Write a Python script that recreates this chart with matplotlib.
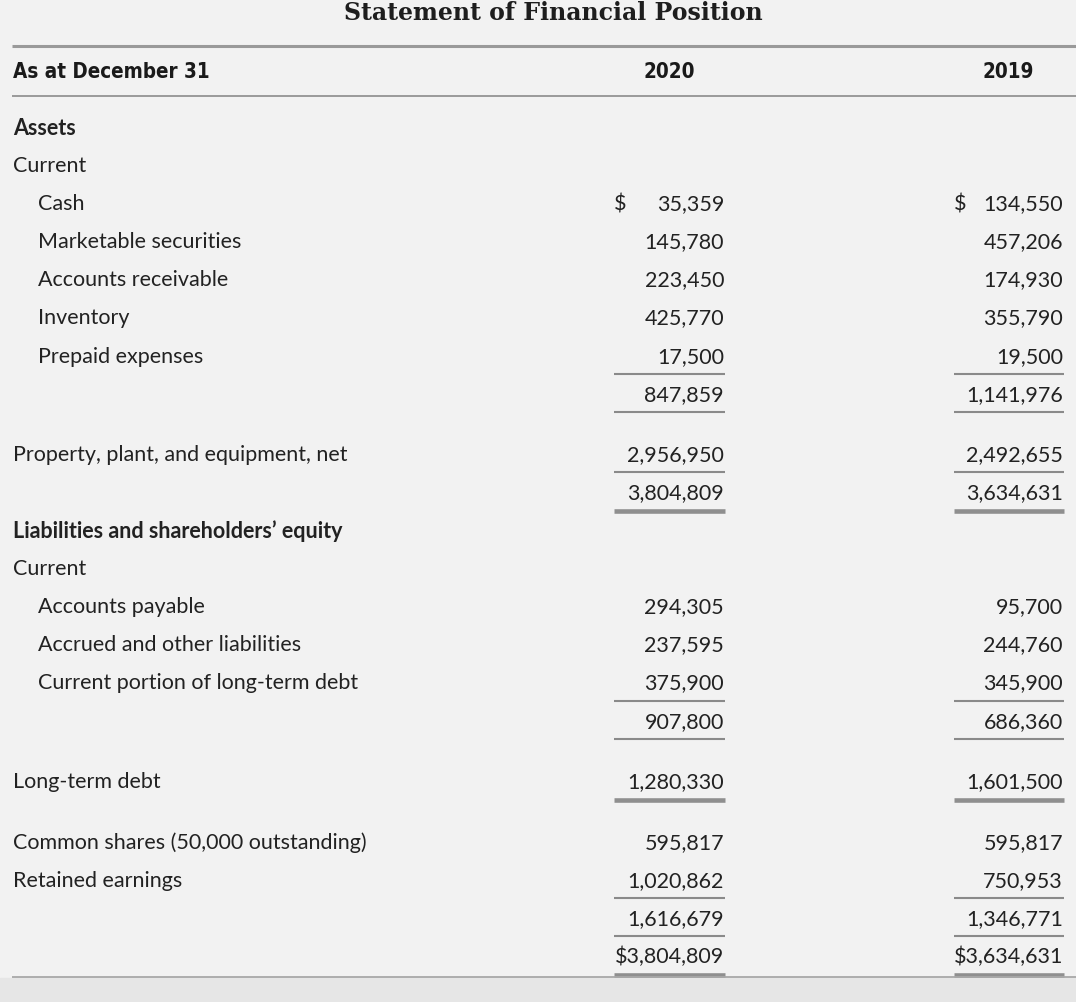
import matplotlib
matplotlib.use("Agg")
import matplotlib.pyplot as plt
from matplotlib.patches import Rectangle

# ---------------- data ----------------
title = "Statement of Financial Position"
header_label = "As at December 31"
years = ["2020", "2019"]

labels = ["Assets", "Current", "Cash", "Marketable securities", "Accounts receivable",
          "Inventory", "Prepaid expenses", "", "Property, plant, and equipment, net", "",
          "Liabilities and shareholders\u2019 equity", "Current", "Accounts payable",
          "Accrued and other liabilities", "Current portion of long-term debt", "",
          "Long-term debt", "Common shares (50,000 outstanding)", "Retained earnings", "", ""]
values_2020 = [None, None, 35359, 145780, 223450, 425770, 17500, 847859, 2956950, 3804809,
               None, None, 294305, 237595, 375900, 907800, 1280330, 595817, 1020862, 1616679, 3804809]
values_2019 = [None, None, 134550, 457206, 174930, 355790, 19500, 1141976, 2492655, 3634631,
               None, None, 95700, 244760, 345900, 686360, 1601500, 595817, 750953, 1346771, 3634631]
indent = [0, 0, 1, 1, 1, 1, 1, 0, 0, 0, 0, 0, 1, 1, 1, 0, 0, 0, 0, 0, 0]
bold = [1, 0, 0, 0, 0, 0, 0, 0, 0, 0, 1, 0, 0, 0, 0, 0, 0, 0, 0, 0, 0]
# 0 none, 1 single rule, 2 double (heavy) rule below the figures
rule_below = [0, 0, 0, 0, 0, 0, 1, 1, 1, 2, 0, 0, 0, 0, 1, 1, 2, 0, 1, 1, 2]
# extra vertical space before a row (fraction of a row)
gap_before = [0, 0, 0, 0, 0, 0, 0, 0, 0.58, 0, 0, 0, 0, 0, 0, 0, 0.58, 0.6, 0, 0, 0]
# dollar sign style: 0 none, 1 separate "$", 2 attached "$"
dollar = [0, 0, 1, 0, 0, 0, 0, 0, 0, 0, 0, 0, 0, 0, 0, 0, 0, 0, 0, 0, 2]

# ---------------- style ----------------
W, H = 1076, 1002
BG = "#f2f2f2"
TXT = "#222222"
RULE = "#8a8a8a"
body_font = ["Lato", "DejaVu Sans"]
head_font = ["DejaVu Sans"]

fig = plt.figure(figsize=(W / 100, H / 100), dpi=100, facecolor=BG)
ax = fig.add_axes([0, 0, 1, 1])
ax.set_xlim(0, W)
ax.set_ylim(H, 0)
ax.axis("off")
ax.set_facecolor(BG)

# bottom darker band
ax.add_patch(Rectangle((0, 978), W, H - 978, color="#e6e6e6", zorder=0))

# title
ax.text(553, 13, title, ha="center", va="center", fontsize=17,
        fontweight="bold", family=["DejaVu Serif"], color="#1e1e1e")

# header rules
ax.plot([12, W], [45.5, 45.5], color="#9a9a9a", lw=2.2, solid_capstyle="butt")
ax.plot([12, W], [95.5, 95.5], color="#9a9a9a", lw=1.4, solid_capstyle="butt")
ax.text(13, 72, header_label, ha="left", va="center", fontsize=14.8,
        fontweight="bold", fontstretch="condensed", family=head_font, color="#1a1a1a")
col_right = [724, 1063]
col_left = [614, 954]
for yr, xl, xr in zip(years, col_left, col_right):
    ax.text((xl + xr) / 2, 72, yr, ha="center", va="center", fontsize=14.8,
            fontweight="bold", fontstretch="condensed", family=head_font, color="#1a1a1a")

# body rows
y0 = 128
pitch = 38.1
y = y0 - pitch
fs = 15.5
for i, lab in enumerate(labels):
    y += pitch * (1 + gap_before[i])
    x = 38 if indent[i] else 13
    if lab:
        ax.text(x, y, lab, ha="left", va="center", fontsize=fs,
                fontweight="bold" if bold[i] else "normal", family=body_font, color=TXT)
    for vals, xl, xr in zip([values_2020, values_2019], col_left, col_right):
        v = vals[i]
        if v is None:
            continue
        s = f"{v:,}"
        if dollar[i] == 2:
            s = "$" + s
        ax.text(xr, y, s, ha="right", va="center", fontsize=fs, family=body_font, color=TXT)
        if dollar[i] == 1:
            ax.text(xl, y, "$", ha="left", va="center", fontsize=fs, family=body_font, color=TXT)
        if rule_below[i] == 1:
            ax.plot([xl, xr + 1], [y + 17.5, y + 17.5], color=RULE, lw=1.5, solid_capstyle="butt")
        elif rule_below[i] == 2:
            ax.plot([xl, xr + 1], [y + 18, y + 18], color="#8f8f8f", lw=3.3, solid_capstyle="butt")

# bottom rule
ax.plot([12, W], [977, 977], color="#a8a8a8", lw=1.3, solid_capstyle="butt")

fig.savefig("out.png", dpi=100, facecolor=BG)
